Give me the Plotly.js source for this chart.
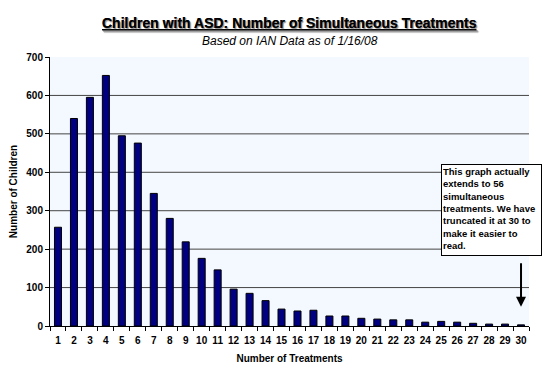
<!DOCTYPE html>
<html>
<head>
<meta charset="utf-8">
<script src="https://cdn.plot.ly/plotly-3.0.1.min.js"></script>
<style>html,body{margin:0;padding:0;background:#fff;}#chart{width:550px;height:376px;}</style>
</head>
<body>
<div id="chart"></div>
<script>
const treatments = ["1","2","3","4","5","6","7","8","9","10","11","12","13","14","15","16","17","18","19","20","21","22","23","24","25","26","27","28","29","30"];
const children = [257,540,595,652,495,476,345,280,219,176,146,96,85,66,44,39,41,26,26,20,18,16,16,10,12,10,7,5,5,3];
const yTicks = [0,100,200,300,400,500,600,700];
const titleText = "Children with ASD: Number of Simultaneous Treatments";
const subtitleText = "Based on IAN Data as of 1/16/08";
const noteText = "This graph actually<br>extends to 56<br>simultaneous<br>treatments. We have<br>truncated it at 30 to<br>make it easier to<br>read.";

const font = "Arial, 'Liberation Sans', sans-serif";

const data = [{
  type: "bar",
  x: treatments,
  y: children,
  marker: {color: "#000080", line: {color: "#000000", width: 1}},
  hoverinfo: "x+y"
}];

// horizontal gridlines at inner ticks (none at 0 or at the top)
const gridShapes = yTicks.filter(v => v > 0 && v < 700).map(v => ({
  type: "line", xref: "paper", yref: "y",
  x0: 0, x1: 1, y0: v, y1: v,
  line: {color: "#444", width: 1},
  layer: "below"
}));

// category index of the last shown treatment (arrow points at it)
const lastIdx = treatments.indexOf("30");

const layout = {
  width: 550, height: 376,
  margin: {l: 50, r: 21, t: 57, b: 50},
  paper_bgcolor: "#ffffff",
  plot_bgcolor: "#F4F9FF",
  bargap: 0.56,
  showlegend: false,
  font: {family: font, color: "#000", size: 10},
  shapes: gridShapes,
  xaxis: {
    type: "category",
    range: [-0.5, 29.5],
    tickson: "boundaries",
    tickangle: 0,
    ticks: "outside", ticklen: 4, tickcolor: "#000",
    ticklabelstandoff: 5,
    showline: true, linecolor: "#000", linewidth: 1,
    showgrid: false,
    tickfont: {family: font, size: 10, weight: "bold", color: "#000"},
    title: {text: "<b>Number of Treatments</b>", font: {family: font, size: 10, color: "#000"}, standoff: 9}
  },
  yaxis: {
    range: [0, 700],
    tickvals: yTicks,
    ticks: "outside", ticklen: 4, tickcolor: "#000",
    showline: true, linecolor: "#000", linewidth: 1,
    showgrid: false,
    zeroline: false,
    tickfont: {family: font, size: 10, weight: "bold", color: "#000"},
    title: {text: "<b>Number of Children</b>", font: {family: font, size: 10, color: "#000"}, standoff: 6}
  },
  annotations: [
    {
      xref: "paper", yref: "paper",
      x: 0.5, y: 1, yshift: 34,
      xanchor: "center", yanchor: "middle",
      text: "<b><u>" + titleText + "</u></b>",
      showarrow: false,
      font: {family: font, size: 14, color: "#000", shadow: "1px 1px 1px #999"}
    },
    {
      xref: "paper", yref: "paper",
      x: 0.5, y: 1, yshift: 16,
      xanchor: "center", yanchor: "middle",
      text: "<i>" + subtitleText + "</i>",
      showarrow: false,
      font: {family: font, size: 12, color: "#000"}
    },
    {
      xref: "paper", yref: "paper",
      x: 0.816, y: 0.601,
      xanchor: "left", yanchor: "top",
      text: "<b>" + noteText + "</b>",
      align: "left", valign: "top",
      width: 97, height: 88,
      showarrow: false,
      bgcolor: "#ffffff", bordercolor: "#000", borderwidth: 1, borderpad: 1,
      font: {family: font, size: 9.5, color: "#000"}
    },
    {
      xref: "x", yref: "y",
      x: lastIdx, y: 50,
      ax: 0, ay: -45,
      text: "",
      showarrow: true,
      arrowhead: 2, arrowsize: 1, arrowwidth: 2, arrowcolor: "#000"
    }
  ]
};

Plotly.newPlot("chart", data, layout, {displayModeBar: false, staticPlot: true});
</script>
</body>
</html>
